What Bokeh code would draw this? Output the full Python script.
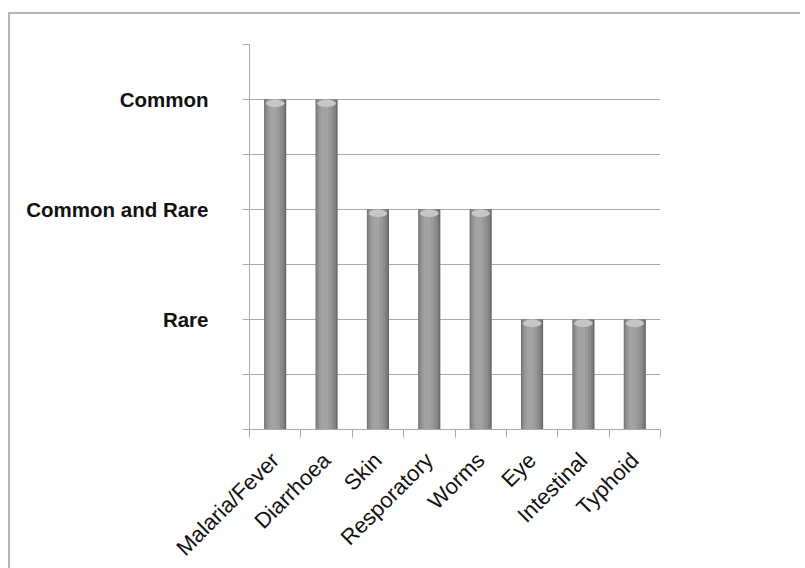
import numpy as np
from math import pi
from bokeh.plotting import figure
from bokeh.models import FixedTicker, ColumnDataSource, Range1d
from bokeh.transform import dodge
from bokeh.embed import file_html
from bokeh.resources import INLINE

categories = ["Malaria/Fever", "Diarrhoea", "Skin", "Resporatory", "Worms", "Eye", "Intestinal", "Typhoid"]
levels = [6, 6, 4, 4, 4, 2, 2, 2]
level_ticks = [2, 4, 6]
level_labels = ["Rare", "Common and Rare", "Common"]
level_max = 7

xpos = list(np.arange(len(categories)) + 0.5)
src = ColumnDataSource(dict(x=xpos, y=levels, cat=categories))

p = figure(frame_width=411, frame_height=385, x_range=Range1d(0, len(categories)), y_range=Range1d(0, level_max),
           output_backend="svg", toolbar_location=None,
           min_border_left=239, min_border_right=140, min_border_top=30, min_border_bottom=100)
p.margin = (12, 0, 0, 8)
p.styles = {"border-top": "2px solid #b5b5b5", "border-left": "2px solid #b5b5b5"}
p.outline_line_color = None
p.background_fill_color = "white"
p.border_fill_color = "white"

grid_color = "#a9a9a9"
p.xgrid.visible = False
p.ygrid.ticker = FixedTicker(ticks=list(range(level_max + 1)))
p.ygrid.grid_line_color = grid_color
p.ygrid.grid_line_width = 1

# y axis
p.yaxis.ticker = FixedTicker(ticks=list(range(level_max + 1)))
overrides = {i: "" for i in range(level_max + 1)}
for t, lab in zip(level_ticks, level_labels):
    overrides[t] = lab
p.yaxis.major_label_overrides = overrides
p.yaxis.axis_line_color = grid_color
p.yaxis.major_tick_line_color = grid_color
p.yaxis.major_tick_out = 7
p.yaxis.major_tick_in = 0
p.yaxis.minor_tick_line_color = None
p.yaxis.major_label_standoff = 34
p.yaxis.major_label_text_font = "Liberation Sans"
p.yaxis.major_label_text_font_style = "bold"
p.yaxis.major_label_text_font_size = "20.5px"
p.yaxis.major_label_text_color = "#111111"

# x axis
p.xaxis.ticker = FixedTicker(ticks=xpos, minor_ticks=list(range(len(categories) + 1)))
p.xaxis.major_label_overrides = {float(xv): c for xv, c in zip(xpos, categories)}
p.xaxis.axis_line_color = grid_color
p.xaxis.major_tick_line_color = None
p.xaxis.major_tick_out = 0
p.xaxis.major_tick_in = 0
p.xaxis.minor_tick_line_color = grid_color
p.xaxis.minor_tick_out = 8
p.xaxis.minor_tick_in = 0
p.xaxis.major_label_orientation = pi / 4
p.xaxis.major_label_standoff = 19
p.xaxis.major_label_text_font = "Liberation Sans"
p.xaxis.major_label_text_font_size = "22px"
p.xaxis.major_label_text_color = "#111111"

# cylinder-like shading with layered bars
shading = [(0.0, 0.43, "#686868"), (-0.01, 0.39, "#808080"), (-0.02, 0.32, "#8e8e8e"),
           (-0.03, 0.24, "#999999"), (-0.04, 0.14, "#a2a2a2")]
for off, w, col in shading:
    p.vbar(x=dodge("x", off), top="y", bottom=0, width=w, source=src,
           fill_color=col, line_color=None)
p.ellipse(x="x", y=dodge("y", -0.07), width=0.36, height=0.14, source=src,
          fill_color="#c6c6c6", line_color=None)

open("out.html", "w").write(file_html(p, INLINE))
